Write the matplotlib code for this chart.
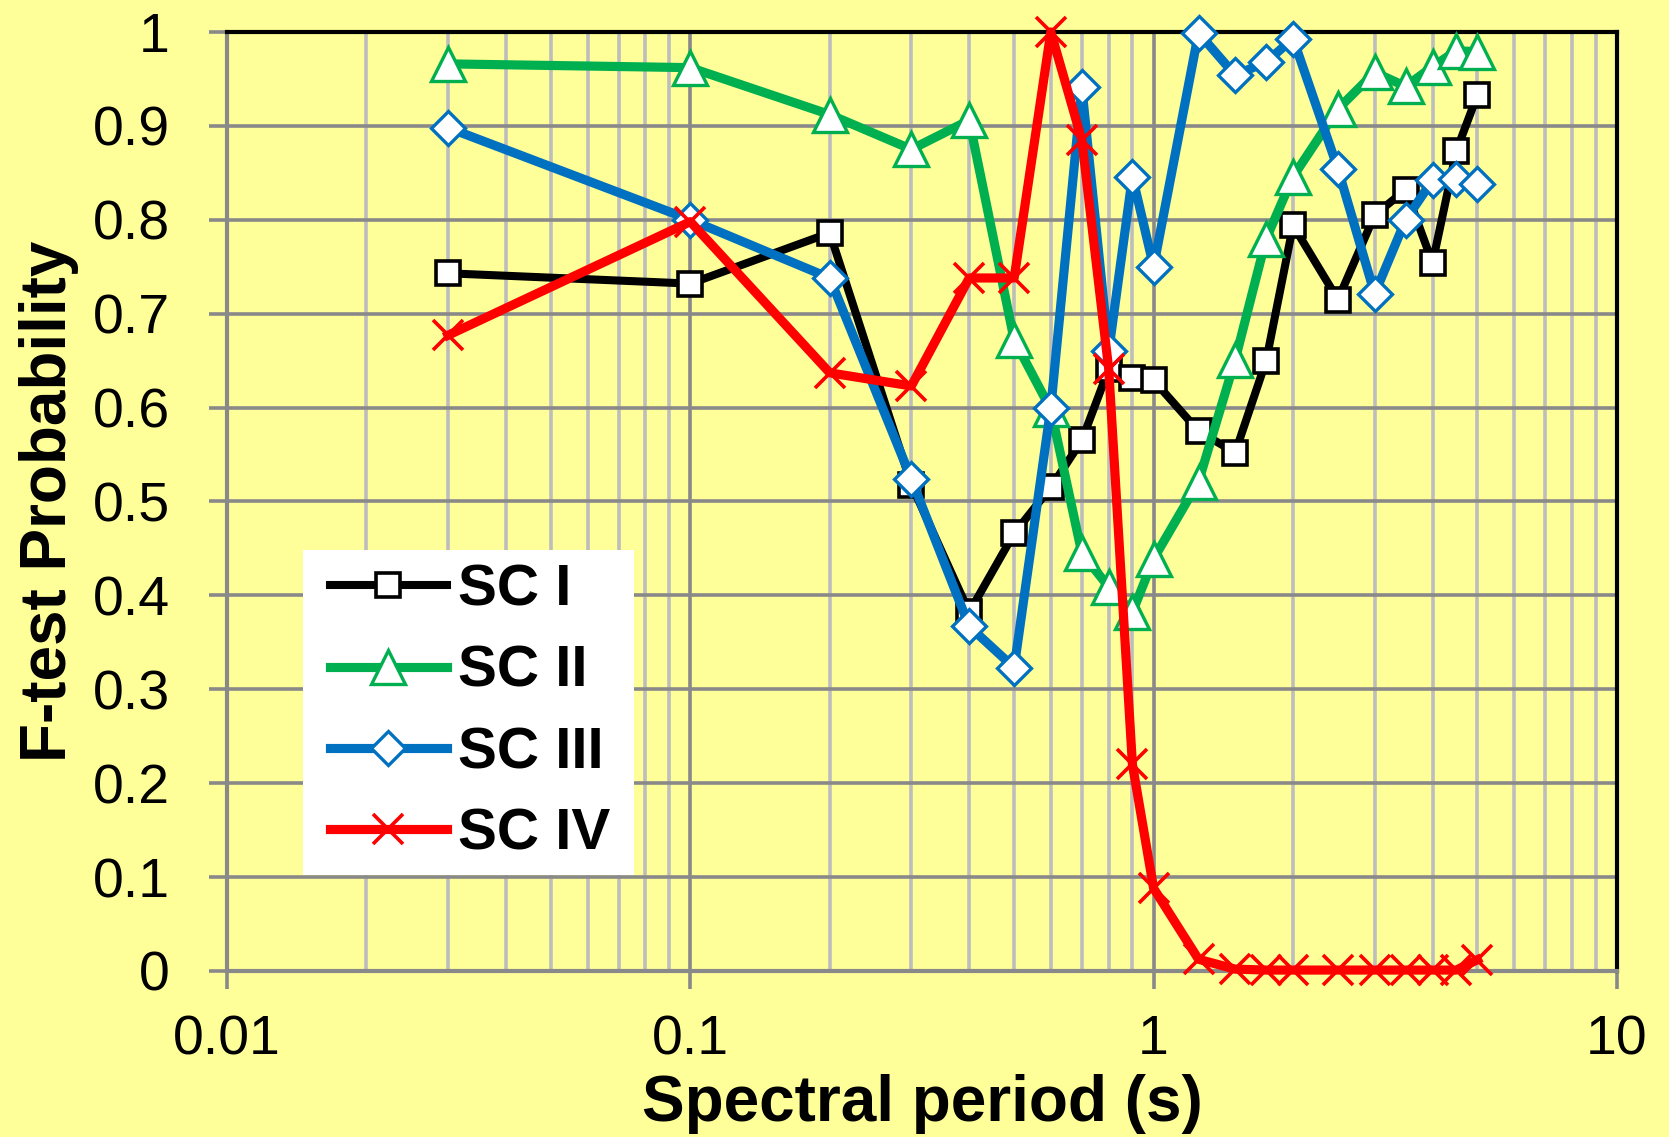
import matplotlib
matplotlib.use("Agg")
import matplotlib.pyplot as plt
from matplotlib.patches import Rectangle
from matplotlib.ticker import LogLocator, FixedLocator, NullFormatter

plt.rcParams['font.family'] = ['Liberation Sans', 'DejaVu Sans']

# spectral periods (s) and F-test probabilities per site class
periods = [0.03, 0.1, 0.2, 0.3, 0.4, 0.5, 0.6, 0.7, 0.8, 0.9, 1.0,
           1.25, 1.5, 1.75, 2.0, 2.5, 3.0, 3.5, 4.0, 4.5, 5.0]
sc1 = [0.743, 0.732, 0.786, 0.518, 0.382, 0.466, 0.515, 0.565, 0.641, 0.632, 0.629,
       0.575, 0.552, 0.650, 0.794, 0.715, 0.805, 0.832, 0.754, 0.873, 0.933]
sc2 = [0.966, 0.962, 0.912, 0.875, 0.906, 0.672, 0.598, 0.445, 0.409, 0.382, 0.439,
       0.521, 0.651, 0.780, 0.846, 0.918, 0.957, 0.942, 0.963, 0.980, 0.979]
sc3 = [0.898, 0.800, 0.738, 0.524, 0.367, 0.323, 0.600, 0.941, 0.660, 0.846, 0.750,
       0.999, 0.954, 0.968, 0.993, 0.854, 0.721, 0.800, 0.842, 0.843, 0.838]
sc4 = [0.677, 0.798, 0.637, 0.623, 0.738, 0.738, 1.000, 0.885, 0.641, 0.220, 0.088,
       0.0125, 0.002, 0.001, 0.001, 0.001, 0.001, 0.001, 0.001, 0.001, 0.012]

labels = ["SC I", "SC II", "SC III", "SC IV"]
x_ticks = [0.01, 0.1, 1, 10]
x_ticklabels = ["0.01", "0.1", "1", "10"]
y_ticks = [0, 0.1, 0.2, 0.3, 0.4, 0.5, 0.6, 0.7, 0.8, 0.9, 1]
y_ticklabels = ["0", "0.1", "0.2", "0.3", "0.4", "0.5", "0.6", "0.7", "0.8", "0.9", "1"]

bg = "#FFFF99"
grid_dark = "#898989"
grid_light = "#BDBDBD"

fig = plt.figure(figsize=(16.69, 11.37), dpi=100, facecolor=bg)
ax = fig.add_axes([0.136, 0.146, 0.8328, 0.8259], facecolor=bg)

ax.plot(periods, sc1, color="black", lw=5.8, marker="s", ms=17, mfc="white",
        mec="black", mew=2.6, label=labels[0], clip_on=False, zorder=3)
ax.plot(periods, sc2, color="#00B050", lw=6.6, marker="^", ms=24, mfc="white",
        mec="#00B050", mew=2.4, label=labels[1], clip_on=False, zorder=4)
ax.plot(periods, sc3, color="#0070C0", lw=6.6, marker="D", ms=17, mfc="white",
        mec="#0070C0", mew=2.4, label=labels[2], clip_on=False, zorder=5)
ax.plot(periods, sc4, color="#FF0000", lw=6.6, marker="x", ms=21, mfc="none",
        mec="#FF0000", mew=2.6, label=labels[3], clip_on=False, zorder=6)

ax.set_xscale("log")
ax.set_xlim(0.01, 10)
ax.set_ylim(0, 1)
ax.xaxis.set_major_locator(FixedLocator(x_ticks))
ax.set_xticklabels(x_ticklabels)
ax.xaxis.set_minor_locator(LogLocator(base=10, subs=range(2, 10)))
ax.xaxis.set_minor_formatter(NullFormatter())
ax.set_yticks(y_ticks)
ax.set_yticklabels(y_ticklabels)

ax.grid(which="major", color=grid_dark, lw=2.6, zorder=0)
ax.grid(which="minor", axis="x", color=grid_light, lw=2.6, zorder=0)
ax.set_axisbelow(True)

for side in ["top", "right"]:
    ax.spines[side].set_color("black")
    ax.spines[side].set_linewidth(3)
for side in ["left", "bottom"]:
    ax.spines[side].set_color(grid_dark)
    ax.spines[side].set_linewidth(3)

ax.tick_params(which="major", direction="out", length=13, width=2.6,
               color=grid_dark, labelsize=40, labelcolor="black")
ax.tick_params(axis="y", pad=28)
ax.tick_params(axis="x", pad=18)
ax.tick_params(which="minor", length=0)

ax.set_xlabel("Spectral period (s)", fontsize=46, fontweight="bold", labelpad=6)
ax.set_ylabel("F-test Probability", fontsize=46, fontweight="bold", labelpad=10)

# white legend panel, wider than the legend's own padding
ax.add_patch(Rectangle((0.055, 0.102), 0.238, 0.346, transform=ax.transAxes,
                       facecolor="white", edgecolor="none", zorder=9))
leg = ax.legend(loc="lower left", bbox_to_anchor=(0.0644, 0.102), borderaxespad=0,
                frameon=False, prop={"size": 42, "weight": "bold"}, handlelength=2.0,
                handletextpad=0.2, labelspacing=0.47, borderpad=0.23)
leg.set_zorder(10)

fig.savefig("out.png", dpi=100, facecolor=bg)
